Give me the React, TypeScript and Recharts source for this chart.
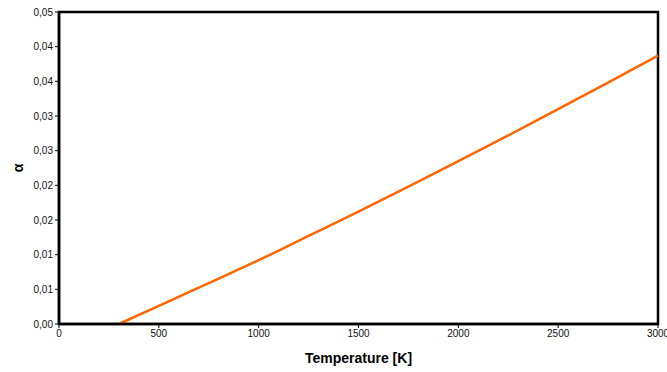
import { LineChart, Line, XAxis, YAxis, ReferenceArea, Label } from 'recharts';

// temperature samples [K] and thermal coefficient alpha
const temperature = [300, 500, 750, 1000, 1250, 1500, 1750, 2000, 2250, 2500, 2750, 3000];
const alpha = [0, 0.0026, 0.0059, 0.0092, 0.0127, 0.0162, 0.0198, 0.0235, 0.0272, 0.031, 0.0348, 0.0387];

const xTicks = [0, 500, 1000, 1500, 2000, 2500, 3000];
const yTicks = [0, 0.005, 0.01, 0.015, 0.02, 0.025, 0.03, 0.035, 0.04, 0.045];
const yTickLabels = ['0,00', '0,01', '0,01', '0,02', '0,02', '0,03', '0,03', '0,04', '0,04', '0,05'];

const data = temperature.map((t, i) => ({ t, a: alpha[i] }));

const font = '"Liberation Sans", Arial, sans-serif';

export default function App() {
  return (
    <div style={{ position: 'absolute', left: 0, top: 0, background: '#fff' }}>
      <LineChart
        width={667}
        height={372}
        data={data}
        margin={{ top: 12, right: 9, left: 0, bottom: 0 }}
        style={{ fontFamily: font }}
      >
        <XAxis
          dataKey="t"
          type="number"
          domain={[0, 3000]}
          ticks={xTicks}
          interval={0}
          height={48}
          tickSize={4}
          tick={{ fontSize: 10, fill: '#111' }}
          axisLine={{ stroke: '#000', strokeWidth: 2.5 }}
          tickLine={{ stroke: '#000' }}
        >
          <Label
            value="Temperature [K]"
            position="insideBottom"
            offset={9}
            style={{ fontSize: 14, fontWeight: 'bold', fill: '#000' }}
          />
        </XAxis>
        <YAxis
          type="number"
          domain={[0, 0.045]}
          ticks={yTicks}
          interval={0}
          width={59}
          tickSize={4}
          tick={{ fontSize: 10, fill: '#111' }}
          tickFormatter={(v: number) => yTickLabels[yTicks.indexOf(v)] ?? ''}
          axisLine={{ stroke: '#000', strokeWidth: 2.5 }}
          tickLine={{ stroke: '#000' }}
        >
          <Label
            content={({ viewBox }: any) => {
              const cx = viewBox.x + 18;
              const cy = viewBox.y + viewBox.height / 2;
              return (
                <text
                  x={cx}
                  y={cy}
                  transform={`rotate(-90, ${cx}, ${cy})`}
                  textAnchor="middle"
                  dominantBaseline="central"
                  fontSize={14}
                  fontWeight="bold"
                  fill="#000"
                >
                  α
                </text>
              );
            }}
          />
        </YAxis>
        <ReferenceArea
          x1={0}
          x2={3000}
          y1={0}
          y2={0.045}
          fill="none"
          stroke="#000"
          strokeWidth={2.5}
          ifOverflow="visible"
        />
        <Line
          dataKey="a"
          type="monotone"
          stroke="#FF6600"
          strokeWidth={2.5}
          dot={false}
          isAnimationActive={false}
        />
      </LineChart>
    </div>
  );
}
